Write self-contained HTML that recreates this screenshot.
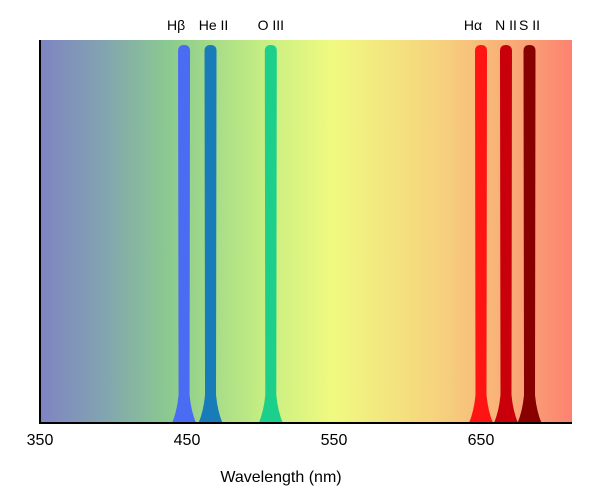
<!DOCTYPE html>
<html><head><meta charset="utf-8"><style>
body{margin:0;background:#fff;width:600px;height:499px;overflow:hidden;font-family:"Liberation Sans",sans-serif}
</style></head><body>
<svg width="600" height="499">
<defs>
<linearGradient id="bg" x1="0" x2="1" y1="0" y2="0">
<stop offset="0" stop-color="#7f84c2"/>
<stop offset="0.12" stop-color="#82a4b0"/>
<stop offset="0.25" stop-color="#8ccc8e"/>
<stop offset="0.42" stop-color="#c6ee82"/>
<stop offset="0.55" stop-color="#f0fa80"/>
<stop offset="0.75" stop-color="#f6d27e"/>
<stop offset="0.87" stop-color="#f8b078"/>
<stop offset="1" stop-color="#fc8270"/>
</linearGradient>
</defs>
<rect x="40" y="40" width="532" height="383" fill="url(#bg)"/>
<g id="peaks"></g>
<line x1="40" y1="40" x2="40" y2="423" stroke="#000" stroke-width="2"/>
<line x1="39" y1="423" x2="572" y2="423" stroke="#000" stroke-width="2"/>
<g id="ticks" font-size="16" text-anchor="middle"></g>
<g id="labels" font-size="14" text-anchor="middle"></g>
<text x="281" y="482" font-size="16" text-anchor="middle">Wavelength (nm)</text>
</svg>
<script>
const tickValues=[350,450,550,650];
const lineNames=["Hβ","He II","O III","Hα","N II","S II"];
const lineWavelengths=[448,466,507,650,667,683];
const lineColors=["#4a6cf2","#177cb8","#1ccf8a","#ff1414","#c9000c","#880000"];
const labelOffsets=[-8,3,0,-8,0,0];
const x0=40,pxPerNm=1.47,yTop=45,yBot=423;
const xs=v=>x0+(v-350)*pxPerNm;
const ns="http://www.w3.org/2000/svg";
const tk=document.getElementById('ticks');
tickValues.forEach(v=>{const t=document.createElementNS(ns,'text');
t.setAttribute('x',xs(v));t.setAttribute('y',445);t.textContent=v;


tk.appendChild(t);});
const pk=document.getElementById('peaks'),lb=document.getElementById('labels');
lineWavelengths.forEach((w,i)=>{const x=xs(w);const p=document.createElementNS(ns,'path');
p.setAttribute('d',`M${x-5.5},${yBot-28} L${x-6},${yTop+6} Q${x-6},${yTop} ${x},${yTop} Q${x+6},${yTop} ${x+6},${yTop+6} L${x+5.5},${yBot-28} Q${x+7},${yBot-12} ${x+12},${yBot} L${x-12},${yBot} Q${x-7},${yBot-12} ${x-5.5},${yBot-28} Z`);
p.setAttribute('fill',lineColors[i]);


pk.appendChild(p);
const t=document.createElementNS(ns,'text');t.setAttribute('x',x+labelOffsets[i]);t.setAttribute('y',30);t.textContent=lineNames[i];


lb.appendChild(t);});
</script>
</body></html>
